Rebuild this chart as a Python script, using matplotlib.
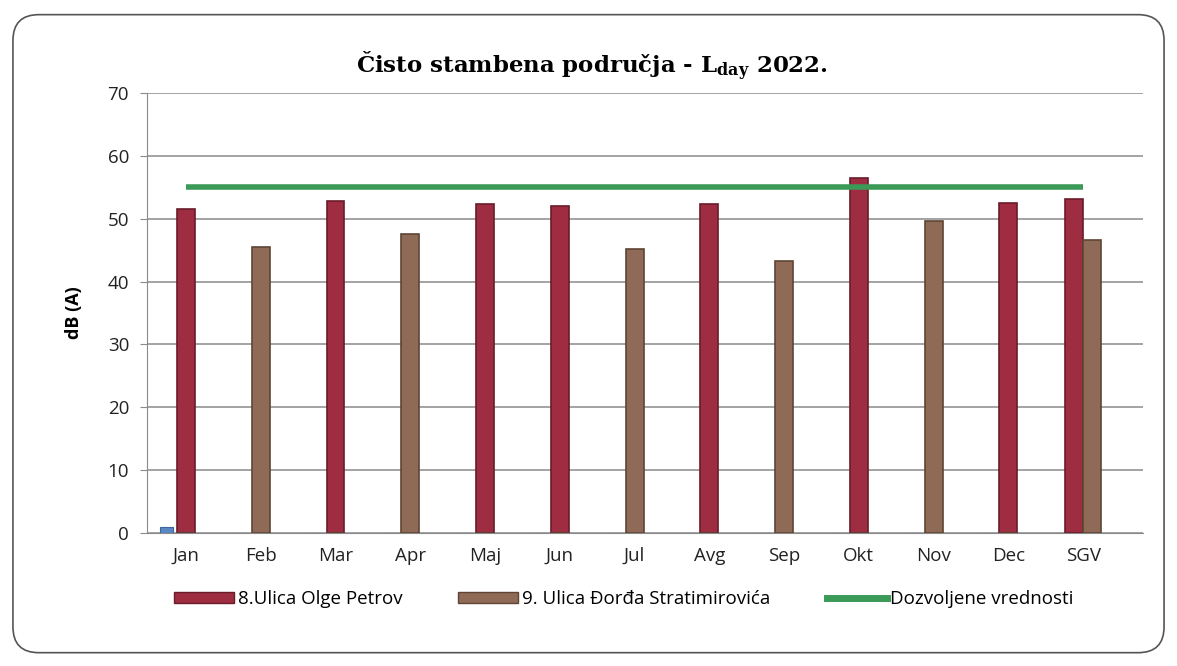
import numpy as np
import matplotlib
matplotlib.use('Agg')
import matplotlib.pyplot as plt
from matplotlib.patches import FancyBboxPatch
from matplotlib.lines import Line2D
from matplotlib.patches import Patch

months = ['Jan', 'Feb', 'Mar', 'Apr', 'Maj', 'Jun', 'Jul', 'Avg', 'Sep', 'Okt', 'Nov', 'Dec', 'SGV']
olge_petrov = [51.5, 0, 52.8, 0, 52.4, 52.1, 0, 52.3, 0, 56.5, 0, 52.5, 53.1]
stratimirovica = [0, 45.5, 0, 47.6, 0, 0, 45.2, 0, 43.3, 0, 49.6, 0, 46.7]
other_site = [0.9, 0, 0, 0, 0, 0, 0, 0, 0, 0, 0, 0, 0]
limit = [55] * 13

plt.rcParams['font.family'] = ['Open Sans', 'DejaVu Sans']
plt.rcParams['mathtext.fontset'] = 'dejavuserif'

fig = plt.figure(figsize=(11.77, 6.66), dpi=100)
fig.patches.append(FancyBboxPatch((0.011, 0.02), 0.978, 0.958, boxstyle='round,pad=0,rounding_size=0.022',
                                  transform=fig.transFigure, fill=False, ec='#555555', lw=1.2,
                                  mutation_aspect=1177 / 666))
ax = fig.add_axes([0.125, 0.2, 0.846, 0.66])

x = np.arange(len(months))
w = 0.24
red = np.array(olge_petrov)
brown = np.array(stratimirovica)
both = (red > 0) & (brown > 0)
ax.bar(x - np.where(both, w / 2, 0), red, w, color='#9e2d42', edgecolor='#6a1c2a', lw=1.2, zorder=3)
ax.bar(x + np.where(both, w / 2, 0), brown, w, color='#8f6a56', edgecolor='#5e4536', lw=1.2, zorder=3)
ax.bar(x - w * 1.1, other_site, w * 0.7, color='#5b87c5', edgecolor='#3f659c', lw=0.8, zorder=3)
ax.plot(x, limit, color='#3b9a57', lw=4, solid_capstyle='butt', zorder=4)

ax.set_xlim(-0.52, 12.8)
ax.set_ylim(0, 70)
ax.set_yticks(range(0, 71, 10))
ax.set_xticks(x)
ax.set_xticklabels(months)
ax.grid(axis='y', color='#8a8a8a', lw=1.1, zorder=0)
for s in ['top', 'right']:
    ax.spines[s].set_visible(False)
ax.spines['left'].set_color('#8a8a8a')
ax.spines['bottom'].set_color('#8a8a8a')
ax.tick_params(axis='y', length=5, color='#8a8a8a', labelsize=13.5, pad=8, labelcolor='#222222')
ax.tick_params(axis='x', length=0, labelsize=13.5, pad=10, labelcolor='#222222')
ax.set_ylabel('dB (A)', fontsize=13, fontweight='bold', labelpad=18)

fig.text(0.503, 0.9, 'Čisto stambena područja - L$_{\\mathbf{day}}$ 2022.', ha='center', va='center',
         fontsize=16.5, fontweight='bold', family='DejaVu Serif')

handles = [Patch(facecolor='#9e2d42', edgecolor='#6a1c2a'),
           Patch(facecolor='#8f6a56', edgecolor='#5e4536'),
           Line2D([], [], color='#3b9a57', lw=5)]
labels = ['8.Ulica Olge Petrov', '9. Ulica Đorđa Stratimirovića', 'Dozvoljene vrednosti']
fig.legend(handles, labels, loc='center', bbox_to_anchor=(0.53, 0.1), ncol=3, frameon=False,
           fontsize=13.5, handlelength=3.2, handleheight=0.5, handletextpad=0.2, columnspacing=3)

fig.savefig('out.png', dpi=100)
